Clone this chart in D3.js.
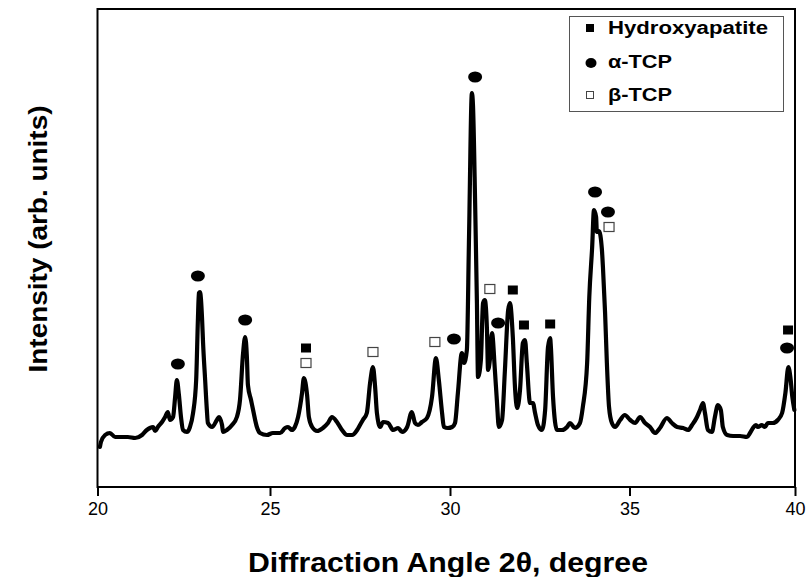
<!DOCTYPE html>
<html>
<head>
<meta charset="utf-8">
<script src="https://cdn.jsdelivr.net/npm/d3@7/dist/d3.min.js"></script>
<style>
  html, body { margin: 0; padding: 0; background: #fff; }
  svg { display: block; font-family: Arial, "Liberation Sans", Helvetica, sans-serif; }
</style>
</head>
<body>
<svg id="chart" width="811" height="577"></svg>
<script>
// XRD pattern: diffraction angle 2θ (degree) and intensity (arb. units)
const twoTheta = [
  20.07, 20.10, 20.22, 20.36, 20.51, 20.71, 20.88, 21.09, 21.29, 21.43,
  21.52, 21.61, 21.67, 21.75, 21.87, 21.96, 22.04, 22.10, 22.19, 22.25,
  22.30, 22.36, 22.42, 22.48, 22.59, 22.68, 22.77, 22.86, 22.91, 22.94,
  22.97, 23.03, 23.06, 23.12, 23.17, 23.20, 23.32, 23.46, 23.52, 23.61,
  23.64, 23.75, 23.90, 24.04, 24.13, 24.22, 24.28, 24.33, 24.36, 24.45,
  24.51, 24.62, 24.71, 24.91, 25.08, 25.28, 25.42, 25.50, 25.61, 25.69,
  25.78, 25.89, 25.94, 26.03, 26.08, 26.17, 26.31, 26.47, 26.61, 26.72,
  26.86, 27.00, 27.14, 27.28, 27.42, 27.50, 27.58, 27.69, 27.78, 27.86,
  27.92, 27.97, 28.06, 28.14, 28.28, 28.42, 28.56, 28.67, 28.81, 28.94,
  29.03, 29.11, 29.22, 29.36, 29.50, 29.61, 29.69, 29.78, 29.83, 29.94,
  30.06, 30.14, 30.22, 30.33, 30.39, 30.47, 30.53, 30.61, 30.64, 30.70,
  30.75, 30.78, 30.86, 30.92, 30.97, 31.03, 31.06, 31.11, 31.17, 31.25,
  31.31, 31.36, 31.45, 31.53, 31.62, 31.67, 31.75, 31.81, 31.87, 31.95,
  32.03, 32.09, 32.14, 32.23, 32.31, 32.37, 32.45, 32.56, 32.65, 32.73,
  32.79, 32.81, 32.87, 32.98, 33.12, 33.26, 33.34, 33.48, 33.62, 33.70,
  33.82, 33.88, 33.96, 34.01, 34.07, 34.09, 34.15, 34.23, 34.26, 34.32,
  34.37, 34.43, 34.51, 34.60, 34.74, 34.87, 35.02, 35.17, 35.32, 35.47,
  35.62, 35.77, 35.92, 36.13, 36.28, 36.44, 36.62, 36.77, 36.89, 37.04,
  37.13, 37.22, 37.28, 37.37, 37.49, 37.58, 37.67, 37.76, 37.82, 37.95,
  38.13, 38.34, 38.55, 38.64, 38.73, 38.82, 38.88, 39.00, 39.09, 39.18,
  39.33, 39.48, 39.61, 39.71, 39.80, 39.86, 39.92, 39.98
];
const intensity = [
  40, 45, 52, 54, 50, 50, 50, 49, 52, 57,
  59, 60, 56, 60, 65, 70, 75, 67, 70, 90,
  107, 92, 70, 57, 55, 60, 74, 107, 167, 194,
  195, 169, 144, 107, 77, 64, 60, 67, 70, 62,
  55, 57, 62, 70, 87, 134, 150, 130, 102, 87,
  77, 60, 54, 52, 54, 54, 59, 60, 57, 60,
  70, 94, 109, 92, 70, 60, 56, 59, 64, 70,
  65, 57, 52, 52, 57, 62, 67, 74, 104, 120,
  100, 74, 60, 65, 64, 57, 59, 55, 60, 75,
  64, 62, 65, 69, 90, 129, 107, 74, 60, 59,
  60, 64, 94, 134, 124, 137, 250, 394, 382, 284,
  184, 110, 127, 184, 187, 157, 117, 127, 154, 117,
  84, 60, 67, 117, 177, 184, 150, 100, 79, 97,
  144, 147, 124, 84, 84, 74, 62, 57, 77, 140,
  149, 140, 90, 57, 57, 60, 64, 59, 64, 80,
  124, 190, 240, 277, 270, 255, 256, 238, 220, 174,
  124, 80, 64, 60, 67, 72, 67, 64, 70, 64,
  60, 54, 59, 69, 64, 60, 59, 57, 62, 70,
  77, 84, 74, 57, 55, 70, 82, 77, 60, 52,
  51, 51, 50, 54, 59, 62, 60, 62, 60, 64,
  64, 67, 74, 94, 120, 110, 90, 77
];

// Phase markers placed above the reflections (2θ, marker height)
const haAngles = [26.00, 31.75, 32.06, 32.79, 39.79];
const haHeights = [139, 197, 162, 163, 157];
const alphaAngles = [22.33, 22.91, 24.28, 30.11, 30.70, 31.34, 34.04, 34.40, 39.76];
const alphaHeights = [123, 211, 167, 148, 410, 164, 295, 275, 139];
const betaAngles = [26.00, 27.86, 29.58, 31.11, 34.43];
const betaHeights = [124, 135, 145, 198, 260];

const xTicks = [20, 25, 30, 35, 40];
const legendLabels = ["Hydroxyapatite", "α-TCP", "β-TCP"];

const svg = d3.select("#chart");
const plot = { left: 97.5, right: 795, top: 9, bottom: 487 };

// The angle axis is calibrated piecewise between the labelled ticks
const x = d3.scaleLinear()
  .domain(xTicks)
  .range([97.5, 270, 450, 629.5, 795]);
const y = d3.scaleLinear()
  .domain([0, 478])
  .range([plot.bottom, plot.top]);

// Pattern trace
const pattern = twoTheta.map((t, i) => ({ t, v: intensity[i] }));
svg.append("path")
  .datum(pattern)
  .attr("fill", "none")
  .attr("stroke", "#000")
  .attr("stroke-width", 4.2)
  .attr("stroke-linejoin", "round")
  .attr("stroke-linecap", "round")
  .attr("d", d3.line().x(d => x(d.t)).y(d => y(d.v)).curve(d3.curveMonotoneX));

// Frame
svg.append("rect")
  .attr("x", plot.left)
  .attr("y", plot.top)
  .attr("width", plot.right - plot.left)
  .attr("height", plot.bottom - plot.top)
  .attr("fill", "none")
  .attr("stroke", "#000")
  .attr("stroke-width", 2);

// Bottom axis
const xAxis = svg.append("g")
  .attr("transform", `translate(0,${plot.bottom})`)
  .call(d3.axisBottom(x).tickValues(xTicks).tickSize(9).tickPadding(6).tickFormat(d3.format("d")));
xAxis.select(".domain").remove();
xAxis.selectAll(".tick line").attr("stroke", "#000").attr("stroke-width", 2);
xAxis.selectAll(".tick text")
  .attr("font-size", 18)
  .attr("font-family", "Arial, 'Liberation Sans', sans-serif")
  .attr("fill", "#000");

// Axis titles
svg.append("text")
  .attr("x", 448)
  .attr("y", 572)
  .attr("text-anchor", "middle")
  .attr("font-size", 28)
  .attr("font-weight", "bold")
  .attr("textLength", 400)
  .attr("lengthAdjust", "spacingAndGlyphs")
  .text("Diffraction Angle 2θ, degree");

svg.append("text")
  .attr("transform", "translate(47,239) rotate(-90)")
  .attr("text-anchor", "middle")
  .attr("font-size", 26)
  .attr("font-weight", "bold")
  .attr("textLength", 267)
  .attr("lengthAdjust", "spacingAndGlyphs")
  .text("Intensity (arb. units)");

// Phase markers
const markers = svg.append("g");
markers.selectAll("rect.ha")
  .data(haAngles.map((t, i) => ({ t, v: haHeights[i] })))
  .join("rect")
  .attr("class", "ha")
  .attr("x", d => x(d.t) - 5)
  .attr("y", d => y(d.v) - 4.5)
  .attr("width", 10)
  .attr("height", 9)
  .attr("fill", "#000");

markers.selectAll("ellipse.alpha")
  .data(alphaAngles.map((t, i) => ({ t, v: alphaHeights[i] })))
  .join("ellipse")
  .attr("class", "alpha")
  .attr("cx", d => x(d.t))
  .attr("cy", d => y(d.v))
  .attr("rx", 7)
  .attr("ry", 5.5)
  .attr("fill", "#000");

markers.selectAll("rect.beta")
  .data(betaAngles.map((t, i) => ({ t, v: betaHeights[i] })))
  .join("rect")
  .attr("class", "beta")
  .attr("x", d => x(d.t) - 5)
  .attr("y", d => y(d.v) - 4.5)
  .attr("width", 10)
  .attr("height", 9)
  .attr("fill", "#fff")
  .attr("stroke", "#444")
  .attr("stroke-width", 1.2);

// Legend
const legend = svg.append("g");
legend.append("rect")
  .attr("x", 569.5)
  .attr("y", 16.5)
  .attr("width", 214)
  .attr("height", 95)
  .attr("fill", "#fff")
  .attr("stroke", "#555")
  .attr("stroke-width", 1);

const rowY = [28, 62, 95];
const legendWidths = [160, 64, 64];
legend.append("rect").attr("x", 586).attr("y", rowY[0] - 4).attr("width", 8).attr("height", 8).attr("fill", "#000");
legend.append("ellipse").attr("cx", 591).attr("cy", rowY[1] + 1).attr("rx", 5.5).attr("ry", 5).attr("fill", "#000");
legend.append("rect").attr("x", 586.5).attr("y", rowY[2] - 3.5).attr("width", 7).attr("height", 7)
  .attr("fill", "#fff").attr("stroke", "#444").attr("stroke-width", 1);

legend.selectAll("text")
  .data(legendLabels)
  .join("text")
  .attr("x", 608)
  .attr("y", (d, i) => rowY[i])
  .attr("dy", "0.36em")
  .attr("font-size", 18)
  .attr("font-weight", "bold")
  .attr("textLength", (d, i) => legendWidths[i])
  .attr("lengthAdjust", "spacingAndGlyphs")
  .text(d => d);
</script>
</body>
</html>
